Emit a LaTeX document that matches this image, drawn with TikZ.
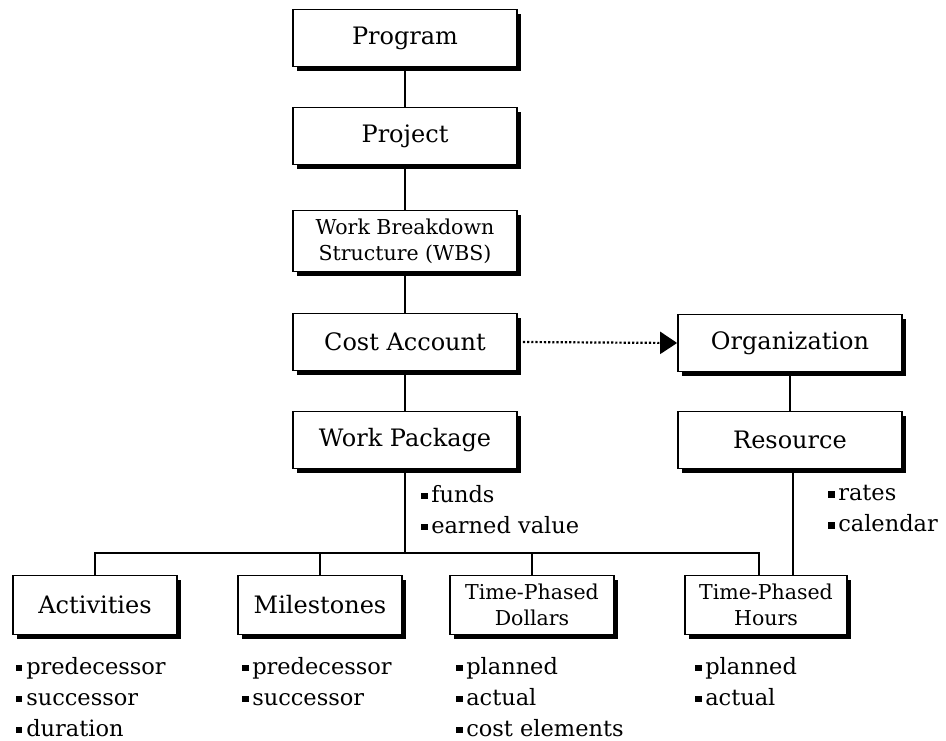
\documentclass[tikz,border=0pt]{standalone}
\usepackage{fontspec}
\setmainfont{DejaVu Serif}
\usetikzlibrary{arrows.meta, shadows}
\newcommand{\sqb}{\raisebox{0.25ex}{\rule{0.28em}{0.28em}}\,}
\tikzset{
  box/.style={rectangle, draw=black, fill=white, line width=1.7pt,
    minimum width=224pt, minimum height=57pt, align=center,
    font=\fontsize{24}{28}\selectfont,
    drop shadow={shadow xshift=4pt, shadow yshift=-4pt, fill=black, opacity=1}},
  twoline/.style={font=\fontsize{20.5}{26}\selectfont},
  leafbox/.style={box, minimum width=164pt, minimum height=59pt},
  notes/.style={anchor=north west, inner sep=0pt, align=left,
    font=\fontsize{22.5}{31}\selectfont},
  link/.style={line width=1.8pt},
  dotarrow/.style={line width=2.2pt, dash pattern=on 2.2pt off 2pt,
    -{Triangle[length=17pt, width=22pt]}}
}
\begin{document}
\begin{tikzpicture}[x=1pt, y=-1pt]
  \useasboundingbox (0,0) rectangle (946,740);
  % main column
  \node[box] (prog) at (405,38) {Program};
  \node[box] (proj) at (405,136) {Project};
  \node[box, twoline, minimum height=61pt] (wbs) at (405,241) {Work Breakdown\\Structure (WBS)};
  \node[box] (ca) at (405,342) {Cost Account};
  \node[box] (wp) at (405,440) {Work Package};
  % organization side
  \node[box] (org) at (790,343) {Organization};
  \node[box] (res) at (790,440) {Resource};
  % leaves
  \node[leafbox] (act) at (95,605) {Activities};
  \node[leafbox] (mil) at (320,605) {Milestones};
  \node[leafbox, twoline] (tpd) at (532,605) {Time-Phased\\Dollars};
  \node[leafbox, twoline, minimum width=162pt] (tph) at (766,605) {Time-Phased\\Hours};
  \coordinate (bus) at (403,553);

  \draw[link] (prog) -- (proj);
  \draw[link] (proj) -- (wbs);
  \draw[link] (wbs) -- (ca);
  \draw[link] (ca) -- (wp);
  \draw[link] (org) -- (res);
  \draw[dotarrow] ([xshift=5pt]ca.east) -- (org.west);

  % bus to the leaves
  \draw[link] (wp.south) -- (wp.south |- bus);
  \draw[link] (act.north) -- (act.north |- bus) -- ([xshift=-7pt]tph.north |- bus) -- ([xshift=-7pt]tph.north);
  \draw[link] (mil.north) -- (mil.north |- bus);
  \draw[link] (tpd.north) -- (tpd.north |- bus);
  \draw[link] ([xshift=3pt]res.south) -- ([xshift=3pt]res.south |- tph.north);

  % notes
  \node[notes] (wpnote) at (421,485) {\sqb funds\\\sqb earned value};
  \node[notes] (resnote) at (828,485) {\sqb rates\\\sqb calendar};
  \node[notes] (actnote) at (16,657) {\sqb predecessor\\\sqb successor\\\sqb duration};
  \node[notes] (milnote) at (242,657) {\sqb predecessor\\\sqb successor};
  \node[notes] (tpdnote) at (456,657) {\sqb planned\\\sqb actual\\\sqb cost elements};
  \node[notes] (tphnote) at (695,657) {\sqb planned\\\sqb actual};
\end{tikzpicture}
\end{document}
